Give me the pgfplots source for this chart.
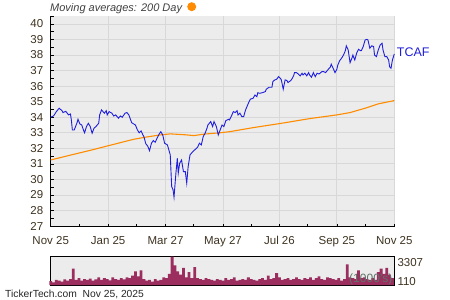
\documentclass[border=0pt]{standalone}
\usepackage{pgfplots}
\pgfplotsset{compat=1.18}
\usepackage{pgfplotstable}
\usepackage{fontspec}
\setmainfont{Liberation Sans}
\definecolor{lineblue}{RGB}{30,30,220}
\definecolor{maorange}{RGB}{255,140,0}
\definecolor{bgray}{RGB}{236,236,236}
\definecolor{gridgray}{RGB}{216,216,216}
\definecolor{labcol}{RGB}{62,50,32}
\definecolor{volcol}{RGB}{155,45,95}
\definecolor{unitcol}{RGB}{95,115,105}

\pgfplotstableread{
day price
0 34.00
3 34.08
6 34.36
9 34.58
12 34.42
13 34.30
16 34.38
19 34.15
21 34.21
22 33.80
23 33.18
25 33.18
28 33.65
29 33.87
31 33.57
33 33.50
35 33.14
36 33.00
38 33.40
40 33.61
42 33.40
44 32.97
46 33.29
48 33.40
51 33.61
52 34.15
54 34.47
57 34.26
59 34.42
60 34.15
62 34.36
65 34.26
67 34.08
69 34.15
72 33.94
74 34.08
76 34.00
79 34.26
81 34.30
83 34.15
86 33.65
90 33.50
92 33.20
94 33.00
96 33.12
98 32.86
99 32.75
101 32.30
103 32.15
105 31.85
107 32.33
109 32.50
111 32.39
113 32.65
115 32.90
117 33.07
119 32.86
121 32.33
124 32.22
127 31.58
128.5 29.54
130 29.33
131 28.86
133 30.40
134.5 31.36
135.5 30.40
137 31.04
139 31.25
141 30.50
143 30.50
144.5 29.76
146 30.82
148 31.58
151 31.79
153 31.90
156 32.07
158 32.33
160 32.22
162 32.75
164 32.97
166 33.29
167 33.50
170 33.72
172 33.40
173.5 33.72
176 33.40
178 32.86
180 33.18
182 33.50
184 33.40
186 33.78
189 33.87
190 33.83
192 34.08
194 34.36
196 34.30
198 34.42
199 34.15
201 34.26
203 34.04
205 34.04
207 34.47
210 34.90
212 35.16
215 35.22
217 35.43
219 35.32
220 35.58
222 35.54
225 35.58
228 35.65
229 35.80
232 35.93
235 35.93
236 36.29
238 36.40
240 36.44
242 36.61
244 36.50
245 36.40
247 35.80
249 36.40
251 36.36
252 36.23
255 36.36
256 36.44
258 36.66
259 36.87
261 36.87
263 36.78
265 36.66
267 36.83
268 36.72
270 36.83
272 36.66
274 36.87
275 36.72
277 36.57
279 36.87
281 36.61
283 36.83
285 36.78
288 36.93
290 36.93
292 36.87
295 37.09
297 37.22
298 37.41
300 37.15
302 36.87
304 37.09
305 37.36
307 37.64
309 37.80
311 38.00
313 38.28
314 38.59
316 38.33
318 37.51
320 37.80
321 38.00
323 37.68
325 38.12
327 38.37
329 38.28
330 38.28
332 38.55
334 38.97
336 39.01
337 38.97
339 38.44
341 38.59
343 38.55
344 38.00
346 37.90
348 38.33
350 38.65
352 38.76
353 38.33
355 37.90
357 37.90
359 37.68
360 37.25
361.5 37.15
363 37.68
365 38.07
}\pricetable

\pgfplotstableread{
day ma
0 31.25
20 31.55
44 31.90
60 32.15
88 32.58
100 32.71
116 32.86
127 32.93
143 32.87
152 32.82
164 32.92
180 33.00
190 33.07
215 33.33
244 33.60
276 33.92
304 34.15
318 34.30
334 34.58
348 34.86
365 35.07
}\matable

\pgfplotstableread{
day vol
0 450
3 300
6 600
9 500
12 400
15 650
18 500
21 700
24 1900
27 600
30 800
33 500
36 700
39 600
42 750
45 500
48 650
51 900
54 600
57 800
60 700
63 550
66 900
69 700
72 600
75 800
78 650
81 900
84 800
87 1100
90 1600
93 1000
96 1700
99 700
102 500
105 600
108 400
111 700
114 500
117 600
120 900
123 800
126 1300
129 3307
132 2300
135 1600
138 1200
141 2000
144 900
147 1500
150 800
153 2100
156 800
159 700
162 600
165 800
168 700
171 600
174 500
177 700
180 600
183 500
186 800
189 600
192 700
195 900
198 500
201 600
204 700
207 600
210 900
213 700
216 600
219 500
222 700
225 800
228 600
231 1100
234 700
237 800
240 1400
243 900
246 600
249 700
252 800
255 600
258 700
261 900
264 700
267 600
270 800
273 700
276 900
279 600
282 800
285 1000
288 700
291 600
294 900
297 800
300 700
303 600
306 800
309 500
312 700
315 2400
318 900
321 800
324 700
327 1700
330 800
333 900
336 700
339 600
342 800
345 600
348 1500
351 1900
354 1300
357 2000
360 1200
363 800
}\voltable

\begin{document}
\begin{tikzpicture}
\path[use as bounding box] (0,0) rectangle (450pt,300pt);
\begin{axis}[
  at={(50.7pt,73.3pt)}, anchor=south west,
  scale only axis, width=343.6pt, height=211pt,
  xmin=0, xmax=365, ymin=26.96, ymax=40.53,
  axis background/.style={fill=bgray},
  axis x line*=bottom, axis y line*=left,
  axis line style={black, line width=0.8pt},
  xtick={0,61,122,183,243,304,365},
  xticklabels={Nov 25,Jan 25,Mar 27,May 27,Jul 26,Sep 25,Nov 25},
  minor xtick={30,91,152,213,273,334},
  ytick={27,28,...,40},
  minor ytick={27.5,28.5,...,40},
  tick align=inside,
  major tick length=3pt, minor tick length=3pt,
  tick style={black, line width=0.6pt},
  grid=major,
  major grid style={gridgray, line width=0.8pt},
  /pgf/number format/assume math mode=true,
  tick label style={font=\fontsize{11.5}{12}\selectfont, text=labcol},
  xticklabel style={yshift=-6pt},
  yticklabel style={xshift=-4pt},
  clip=false,
]
\addplot[maorange, line width=1.1pt] table[x=day,y=ma] {\matable};
\addplot[lineblue, line width=0.9pt] table[x=day,y=price] {\pricetable};
\node[anchor=west, text=lineblue, font=\fontsize{12.5}{13}\selectfont, inner sep=0pt, xshift=2.4pt] at (axis cs:365,38.2) {TCAF};
\end{axis}

\begin{axis}[
  at={(50.7pt,15pt)}, anchor=south west,
  scale only axis, width=343.6pt, height=28.3pt,
  xmin=0, xmax=365, ymin=0, ymax=3307,
  axis background/.style={fill=bgray},
  axis line style={black, line width=0.8pt},
  xtick=\empty, ytick=\empty,
  clip=false,
]
\addplot[ybar, bar width=2.8pt, fill=volcol, draw=none, bar shift=0pt] table[x=day,y=vol] {\voltable};
\node[anchor=east, text=unitcol, font=\fontsize{12}{12}\selectfont, inner sep=0pt] at (rel axis cs:0.995,0.2) {(1000's)};
\end{axis}

\node[anchor=west, text=labcol, font=\fontsize{11.5}{12}\selectfont, inner sep=0pt] at (397.3pt,37.3pt) {3307};
\node[anchor=west, text=labcol, font=\fontsize{11.5}{12}\selectfont, inner sep=0pt] at (397.3pt,18.3pt) {110};
\node[anchor=base west, text={black!75}, font=\fontsize{11}{12}\selectfont\itshape, inner sep=0pt] at (50pt,288.6pt) {Moving averages: 200 Day};
\fill[maorange] (191.7pt,293.3pt) circle (4.5pt);
\node[anchor=base west, text={black!85}, font=\fontsize{10.3}{12}\selectfont, inner sep=0pt] at (5pt,2.5pt) {TickerTech.com\ \ Nov 25, 2025};
\end{tikzpicture}
\end{document}
